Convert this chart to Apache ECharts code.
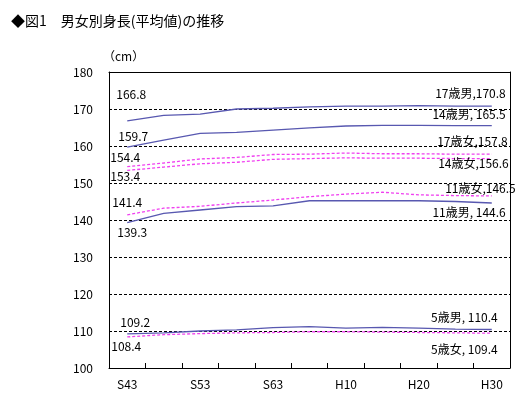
<!DOCTYPE html>
<html><head><meta charset="utf-8">
<script src="https://cdn.jsdelivr.net/npm/echarts@6/dist/echarts.min.js"></script>
<style>html,body{margin:0;padding:0;background:#fff}#c{width:530px;height:395px}</style>
</head><body><div id="c"></div>
<script>
const categories = ['S43','S48','S53','S58','S63','H5','H10','H15','H20','H25','H30'];
const boys17  = [166.8, 168.3, 168.6, 170.0, 170.2, 170.6, 170.8, 170.8, 170.9, 170.8, 170.8];
const boys14  = [159.7, 161.6, 163.4, 163.7, 164.3, 164.9, 165.4, 165.6, 165.6, 165.5, 165.5];
const girls17 = [154.4, 155.4, 156.5, 156.9, 157.7, 157.8, 158.1, 157.9, 157.9, 157.8, 157.8];
const girls14 = [153.4, 154.3, 155.2, 155.6, 156.4, 156.6, 156.8, 156.7, 156.7, 156.6, 156.6];
const girls11 = [141.4, 143.2, 143.7, 144.6, 145.4, 146.3, 147.0, 147.5, 146.8, 146.6, 146.5];
const boys11  = [139.3, 141.8, 142.7, 143.6, 143.8, 145.2, 145.2, 145.2, 145.2, 145.0, 144.6];
const boys5   = [109.2, 109.5, 110.0, 110.3, 110.9, 111.2, 110.8, 111.0, 110.8, 110.5, 110.4];
const girls5  = [108.4, 109.0, 109.3, 109.5, 109.6, 109.8, 109.8, 109.7, 109.6, 109.5, 109.4];
const seriesNames = ['17歳男','14歳男','17歳女','14歳女','11歳女','11歳男','5歳男','5歳女'];
const endSeparators = [',', ', ', ',', ',', ',', ', ', ', ', ', '];
const yTicks = {min: 100, max: 180, step: 10};

const FONT = '"Noto Sans CJK JP", "Liberation Sans", sans-serif';
const BLUE = '#5858b0';
const PINK = '#f040f0';
// label layout (offsets in px relative to the data point)
const layout = [
  {data: boys17,  color: BLUE, dash: false, s: [4,-26],  e: [14,-13]},
  {data: boys14,  color: BLUE, dash: false, s: [6,-11],  e: [14,-11]},
  {data: girls17, color: PINK, dash: true,  s: [-2,-9],  e: [16,-13]},
  {data: girls14, color: PINK, dash: true,  s: [-2,6],   e: [17,5]},
  {data: girls11, color: PINK, dash: true,  s: [0,-12],  e: [24,-8]},
  {data: boys11,  color: BLUE, dash: false, s: [5,10],   e: [14,9]},
  {data: boys5,   color: BLUE, dash: false, s: [8,-12],  e: [6,-12.5]},
  {data: girls5,  color: PINK, dash: true,  s: [-1,9.5], e: [6,16.5]}
];

const series = layout.map((cfg, i) => {
  const n = cfg.data.length;
  const data = cfg.data.map((v, j) => {
    const item = {value: v};
    if (j === 0) {
      item.label = {show: true, position: cfg.s, align: 'center', verticalAlign: 'middle',
        formatter: v.toFixed(1)};
    } else if (j === n - 1) {
      item.label = {show: true, position: cfg.e, align: 'right', verticalAlign: 'middle',
        formatter: seriesNames[i] + endSeparators[i] + v.toFixed(1)};
    }
    return item;
  });
  return {
    name: seriesNames[i], type: 'line', data: data, xAxisIndex: 0, yAxisIndex: 0,
    symbol: 'rect', symbolSize: 0.01, showSymbol: true, showAllSymbol: true,
    itemStyle: {color: 'rgba(0,0,0,0)'},
    lineStyle: {color: cfg.color, width: 1.3, type: cfg.dash ? [3, 2] : 'solid'},
    label: {show: false, color: '#000', fontFamily: FONT, fontSize: 12},
    labelLayout: {hideOverlap: false},
    emphasis: {disabled: true}, animation: false, z: cfg.dash ? 3 : 2
  };
});

const chart = echarts.init(document.getElementById('c'), null, {renderer: 'canvas'});
chart.setOption({
  backgroundColor: '#fff',
  animation: false,
  title: {text: '◆図1　男女別身長(平均値)の推移', left: 6, top: 9,
    textStyle: {fontFamily: FONT, fontSize: 14, fontWeight: 'normal', color: '#000'}},
  graphic: [{type: 'text', left: 103, top: 50, style: {text: '（cm）', fontFamily: FONT, fontSize: 12, fill: '#000'}}],
  grid: {left: 109, right: 20, top: 72, bottom: 27},
  xAxis: [{type: 'category', data: categories, boundaryGap: true, position: 'bottom',
    axisLine: {show: true, lineStyle: {color: '#000', width: 1}},
    axisTick: {show: true, inside: true, length: 5, interval: 0, lineStyle: {color: '#000', width: 1}},
    axisLabel: {interval: 1, color: '#000', fontFamily: FONT, fontSize: 12, margin: 10},
    splitLine: {show: false}},
   {type: 'category', data: categories, position: 'top',
    axisLine: {show: true, lineStyle: {color: '#000', width: 1}},
    axisTick: {show: false}, axisLabel: {show: false}, splitLine: {show: false}}],
  yAxis: [{type: 'value', min: yTicks.min, max: yTicks.max, interval: yTicks.step, position: 'left',
    axisLine: {show: true, lineStyle: {color: '#000', width: 1}},
    axisTick: {show: false},
    axisLabel: {color: '#000', fontFamily: FONT, fontSize: 12, margin: 16},
    splitLine: {show: true, lineStyle: {color: '#000', width: 1, type: [3, 2]}}},
   {type: 'value', min: yTicks.min, max: yTicks.max, interval: yTicks.step, position: 'right',
    axisLine: {show: true, lineStyle: {color: '#000', width: 1}},
    axisTick: {show: false}, axisLabel: {show: false}, splitLine: {show: false}}],
  series: series
});
</script></body></html>
